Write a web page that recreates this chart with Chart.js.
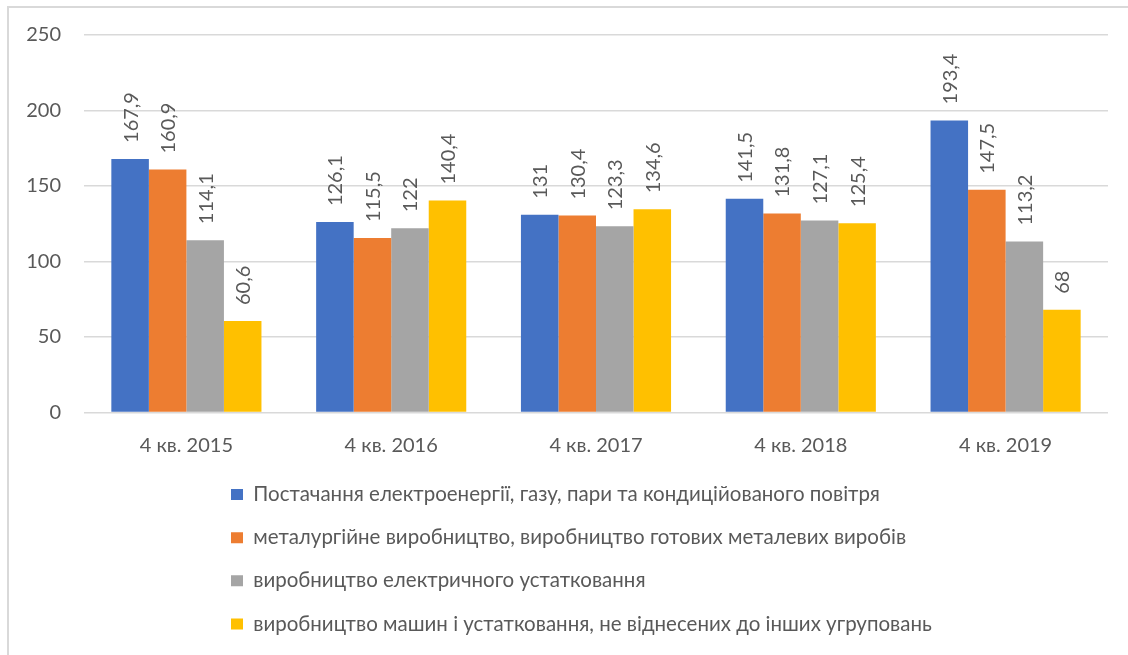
<!DOCTYPE html>
<html>
<head>
<meta charset="utf-8">
<script src="https://cdn.jsdelivr.net/npm/chart.js@4"></script>
<style>
  html, body { margin: 0; padding: 0; background: #fff; }
  #frame { position: absolute; left: 7px; top: 6px; width: 1121px; height: 649px;
           border-left: 2px solid #d9d9d9; border-top: 2px solid #d9d9d9; box-sizing: border-box; }
  #wrap { position: absolute; left: 9px; top: 8px; width: 1119px; height: 647px; }
</style>
</head>
<body>
<div id="frame"></div>
<div id="wrap"><canvas id="c" width="1119" height="647"></canvas></div>
<script>
const categories = ['4 кв. 2015', '4 кв. 2016', '4 кв. 2017', '4 кв. 2018', '4 кв. 2019'];
const seriesNames = [
  'Постачання електроенергії, газу, пари та кондиційованого повітря',
  'металургійне виробництво, виробництво готових металевих виробів',
  'виробництво електричного устатковання',
  'виробництво машин і устатковання, не віднесених до інших угруповань'
];
const energy = [167.9, 126.1, 131, 141.5, 193.4];
const metallurgy = [160.9, 115.5, 130.4, 131.8, 147.5];
const electrical = [114.1, 122, 123.3, 127.1, 113.2];
const machinery = [60.6, 140.4, 134.6, 125.4, 68];
const yTicks = [0, 50, 100, 150, 200, 250];
const colors = ['#4472C4', '#ED7D31', '#A5A5A5', '#FFC000'];

const FONT = 'Lato, "Open Sans", sans-serif';
const TEXT = '#595959';

const valueLabels = {
  id: 'valueLabels',
  afterDatasetsDraw(chart) {
    const ctx = chart.ctx;
    ctx.save();
    ctx.font = '20px ' + FONT;
    ctx.fillStyle = TEXT;
    ctx.textAlign = 'left';
    ctx.textBaseline = 'middle';
    chart.data.datasets.forEach((ds, di) => {
      const meta = chart.getDatasetMeta(di);
      meta.data.forEach((bar, i) => {
        const v = ds.data[i];
        const txt = String(v).replace('.', ',');
        ctx.save();
        ctx.translate(bar.x + 1, bar.y - 16);
        ctx.rotate(-Math.PI / 2);
        ctx.fillText(txt, 0, 0);
        ctx.restore();
      });
    });
    ctx.restore();
  }
};

// one legend entry per row, rows left-aligned under the plot
const legendRows = {
  id: 'legendRows',
  beforeLayout(chart) {
    const lg = chart.legend;
    if (lg && !lg._oneRowPatch) {
      const orig = lg._fitRows;
      lg._fitRows = function (...args) {
        const saved = this.maxWidth;
        this.maxWidth = 700;
        const r = orig.apply(this, args);
        this.maxWidth = saved;
        return r;
      };
      lg._oneRowPatch = true;
    }
  },
  afterLayout(chart) {
    const lg = chart.legend;
    if (lg) {
      lg.left = 222 - lg.options.labels.padding;
    }
  }
};

new Chart(document.getElementById('c'), {
  type: 'bar',
  data: {
    labels: categories,
    datasets: [
      { label: seriesNames[0], data: energy, backgroundColor: colors[0] },
      { label: seriesNames[1], data: metallurgy, backgroundColor: colors[1] },
      { label: seriesNames[2], data: electrical, backgroundColor: colors[2] },
      { label: seriesNames[3], data: machinery, backgroundColor: colors[3] }
    ]
  },
  options: {
    responsive: false,
    animation: false,
    datasets: { bar: { categoryPercentage: 0.733, barPercentage: 1.0, borderWidth: 0 } },
    layout: { padding: { left: 0, right: 20, top: 27, bottom: 10.7 } },
    scales: {
      x: {
        grid: { display: false },
        border: { display: false },
        ticks: { color: TEXT, font: { family: FONT, size: 20 }, padding: 13, maxRotation: 0 },
        afterFit(s) { s.height = 49; }
      },
      y: {
        min: 0, max: 250,
        afterBuildTicks(s) { s.ticks = yTicks.map(v => ({ value: v })); },
        grid: { color: '#d9d9d9', lineWidth: 1.5, drawTicks: true, tickLength: 18, tickColor: 'rgba(0,0,0,0)' },
        border: { display: false },
        ticks: { color: TEXT, font: { family: FONT, size: 20 }, padding: 5 },
        afterFit(s) { s.width = 75; }
      }
    },
    plugins: {
      legend: {
        position: 'bottom',
        align: 'start',
        labels: {
          boxWidth: 12, boxHeight: 11, padding: 22.7,
          color: TEXT, font: { family: FONT, size: 20.5 }
        }
      },
      tooltip: { enabled: false }
    }
  },
  plugins: [valueLabels, legendRows]
});
</script>
</body>
</html>
